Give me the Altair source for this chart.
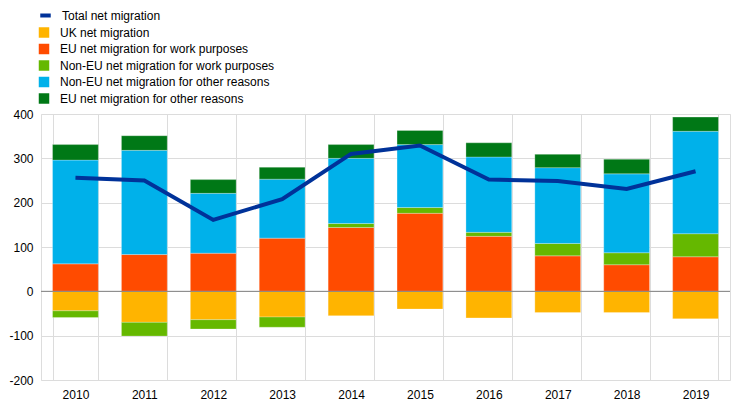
import altair as alt
import pandas as pd

years = ["2010", "2011", "2012", "2013", "2014", "2015", "2016", "2017", "2018", "2019"]
series_names = [
    "UK net migration",
    "EU net migration for work purposes",
    "Non-EU net migration for work purposes",
    "Non-EU net migration for other reasons",
    "EU net migration for other reasons",
]
series_colors = ["#FFB400", "#FF4B00", "#65B800", "#00B1EA", "#007816"]

uk = [-44, -70, -64, -58, -55, -40, -60, -48, -48, -62]
eu_work = [62, 83, 86, 120, 144, 176, 124, 80, 60, 78]
noneu_work = [-15, -31, -21, -23, 9, 13, 9, 28, 27, 52]
noneu_other = [234, 235, 135, 133, 147, 142, 170, 171, 178, 231]
eu_other = [35, 33, 31, 27, 31, 32, 32, 30, 33, 32]
total = [256, 250, 161, 208, 310, 329, 252, 249, 231, 271]
total_name = "Total net migration"

rows = []
for i, vals in enumerate([uk, eu_work, noneu_work, noneu_other, eu_other]):
    for y, v in zip(years, vals):
        rows.append({"year": y, "series": series_names[i], "idx": i, "value": v})
bars_df = pd.DataFrame(rows)
line_df = pd.DataFrame({"year": years, "value": total, "s": [total_name] * len(years)})
zero_df = pd.DataFrame({"y": [0]})

x_enc = alt.X(
    "year:O",
    scale=alt.Scale(paddingInner=0.335, paddingOuter=0.1675),
    axis=alt.Axis(
        title=None, labelAngle=0, tickBand="extent", grid=True, ticks=False,
        domain=False, labelPadding=9, labelFontSize=12, labelColor="#000000",
        gridColor="#dcdcdc", gridWidth=1,
    ),
)

y_scale = alt.Scale(domain=[-200, 400], nice=False)

bars = alt.Chart(bars_df).mark_bar(stroke="white", strokeWidth=0.6, strokeOpacity=0.45).encode(
    x=x_enc,
    y=alt.Y(
        "value:Q",
        scale=y_scale,
        stack="zero",
        axis=alt.Axis(
            title=None, values=[-200, -100, 0, 100, 200, 300, 400],
            labelExpr="datum.value < 0 ? '-' + abs(datum.value) : '' + datum.value",
            ticks=False, domain=False, labelPadding=8, labelFontSize=12,
            labelColor="#000000", gridColor="#dcdcdc", gridWidth=1,
        ),
    ),
    color=alt.Color(
        "series:N",
        scale=alt.Scale(domain=series_names, range=series_colors),
        legend=alt.Legend(
            orient="none", legendX=-3, legendY=-87.5, title=None,
            symbolType="square", symbolSize=110, symbolStrokeWidth=0,
            labelFontSize=12, labelColor="#000000", rowPadding=4.5,
            padding=0, labelOffset=10, labelLimit=0,
        ),
    ),
    order=alt.Order("idx:Q"),
)

zero = alt.Chart(zero_df).mark_rule(color="#808080", strokeWidth=1).encode(
    y=alt.Y("y:Q", scale=y_scale)
)

line = alt.Chart(line_df).mark_line(strokeWidth=4, color="#003299").encode(
    x=x_enc,
    y=alt.Y("value:Q", scale=y_scale),
    color=alt.Color(
        "s:N",
        scale=alt.Scale(domain=[total_name], range=["#003299"]),
        legend=alt.Legend(
            orient="none", legendX=-3, legendY=-106, title=None,
            symbolType="stroke", symbolSize=110, symbolStrokeWidth=4,
            labelFontSize=12, labelColor="#000000", padding=0, labelOffset=9,
            labelLimit=0,
        ),
    ),
)

chart = (
    alt.layer(bars, zero, line)
    .resolve_scale(color="independent")
    .properties(
        width=689, height=266, autosize="none",
        padding={"left": 33, "top": 106, "right": 6, "bottom": 24},
    )
    .configure_view(stroke=None)
    .configure(font="Arial, Liberation Sans, sans-serif")
)

chart.save("out.html", embed_options={"renderer": "svg", "actions": False})
